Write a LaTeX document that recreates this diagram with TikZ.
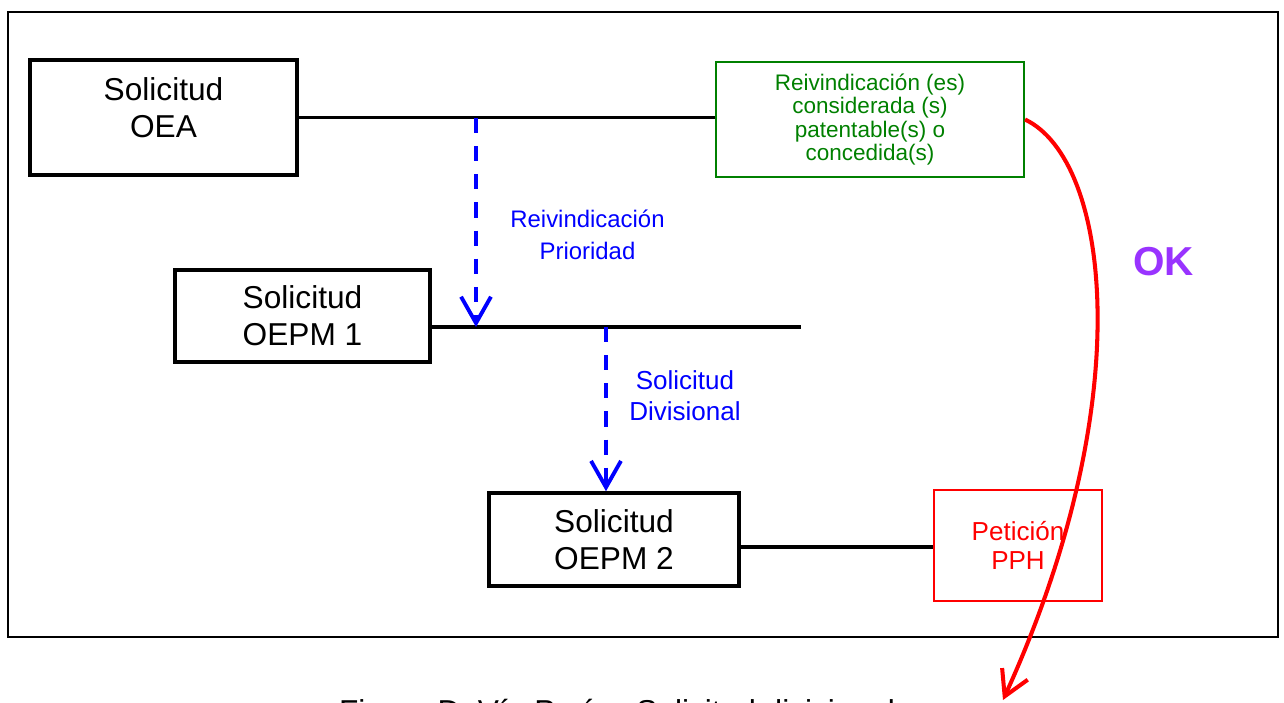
\documentclass[tikz,border=0pt]{standalone}
\usepackage{fontspec}
\setmainfont{Liberation Sans}
\usetikzlibrary{arrows.meta,positioning}

\definecolor{okpurple}{RGB}{153,51,255}
\definecolor{claimgreen}{RGB}{0,128,0}
\definecolor{linkblue}{RGB}{0,0,255}

\tikzset{
  solbox/.style={draw,line width=1pt,align=center,inner sep=0pt,font=\fontsize{9}{10.6}\selectfont},
  soltext/.style={align=center,inner sep=0pt,font=\fontsize{9}{10.6}\selectfont},
  claimbox/.style={draw=claimgreen,text=claimgreen,line width=0.55pt,align=center,inner sep=0pt,
    minimum width=3.08cm,minimum height=1.15cm,font=\fontsize{6.4}{6.6}\selectfont},
  pphbox/.style={draw=red,text=red,line width=0.45pt,align=center,inner sep=0pt,
    minimum width=1.68cm,minimum height=1.11cm,font=\fontsize{7.4}{8.3}\selectfont},
  link/.style={line width=1.1pt},
  prio/.style={linkblue,line width=1.1pt,dash pattern=on 4.3pt off 3.7pt,
    -{Straight Barb[length=7.5pt,width=8.5pt]}},
  bluetxt/.style={text=linkblue,align=center,inner sep=0pt},
  okarrow/.style={red,line width=1.15pt,-{Straight Barb[length=7pt,width=8pt]}},
}

\begin{document}
\begin{tikzpicture}[x=0.01cm,y=-0.01cm]
\useasboundingbox (0,0) rectangle (1284,703);
\draw[line width=0.75pt] (8,12) rectangle (1278,637);   %% frame

% boxes
\node[solbox,minimum width=2.67cm,minimum height=1.15cm] (oea) at (163.5,117.5) {};
\node[soltext] (oeatxt) at (163.5,107.5) {Solicitud\\OEA};
\node[claimbox] (claim) at (870,119.5) {Reivindicación (es)\\considerada (s)\\patentable(s) o\\concedida(s)};
\node[solbox,minimum width=2.55cm,minimum height=0.92cm] (oepm1) at (302.5,316) {Solicitud\\OEPM 1};
\node[solbox,minimum width=2.50cm,minimum height=0.93cm] (oepm2) at (614,539.5) {Solicitud\\OEPM 2};
\node[pphbox] (pph) at (1018,545.5) {Petición\\PPH};

% labels
\node[bluetxt,font=\fontsize{6.8}{9.1}\selectfont] (priotxt) at (587.5,235) {Reivindicación\\Prioridad};
\node[bluetxt,font=\fontsize{7.4}{8.8}\selectfont] (divtxt) at (685,395.5) {Solicitud\\Divisional};
\node[text=okpurple,inner sep=0pt,font=\fontsize{11.5}{13}\selectfont\bfseries] (ok) at (1163.5,262) {OK};
\node[anchor=base,inner sep=0pt,font=\fontsize{9}{10.6}\selectfont] (caption) at (617,722) {Figura D. Vía París - Solicitud divisional};

\coordinate (l1end) at (801,327);
\coordinate (p1) at (476,118);
\coordinate (p2) at (606,327);
\coordinate (l3) at (800,547);
\coordinate (okend) at (1003,700);

% lines
\draw[link] (oea.east) -- (oea.east -| claim.west);
\draw[link] (l1end -| oepm1.east) -- (l1end);
\draw[link] (l3 -| oepm2.east) -- (l3 -| pph.west);
\draw[prio] (p1) -- (p1 |- l1end);
\draw[prio] (p2) -- (p2 |- oepm2.north);
\draw[okarrow] (claim.east) .. controls (1110,160) and (1140,400) .. (okend);   %% the PPH path
\end{tikzpicture}
\end{document}
